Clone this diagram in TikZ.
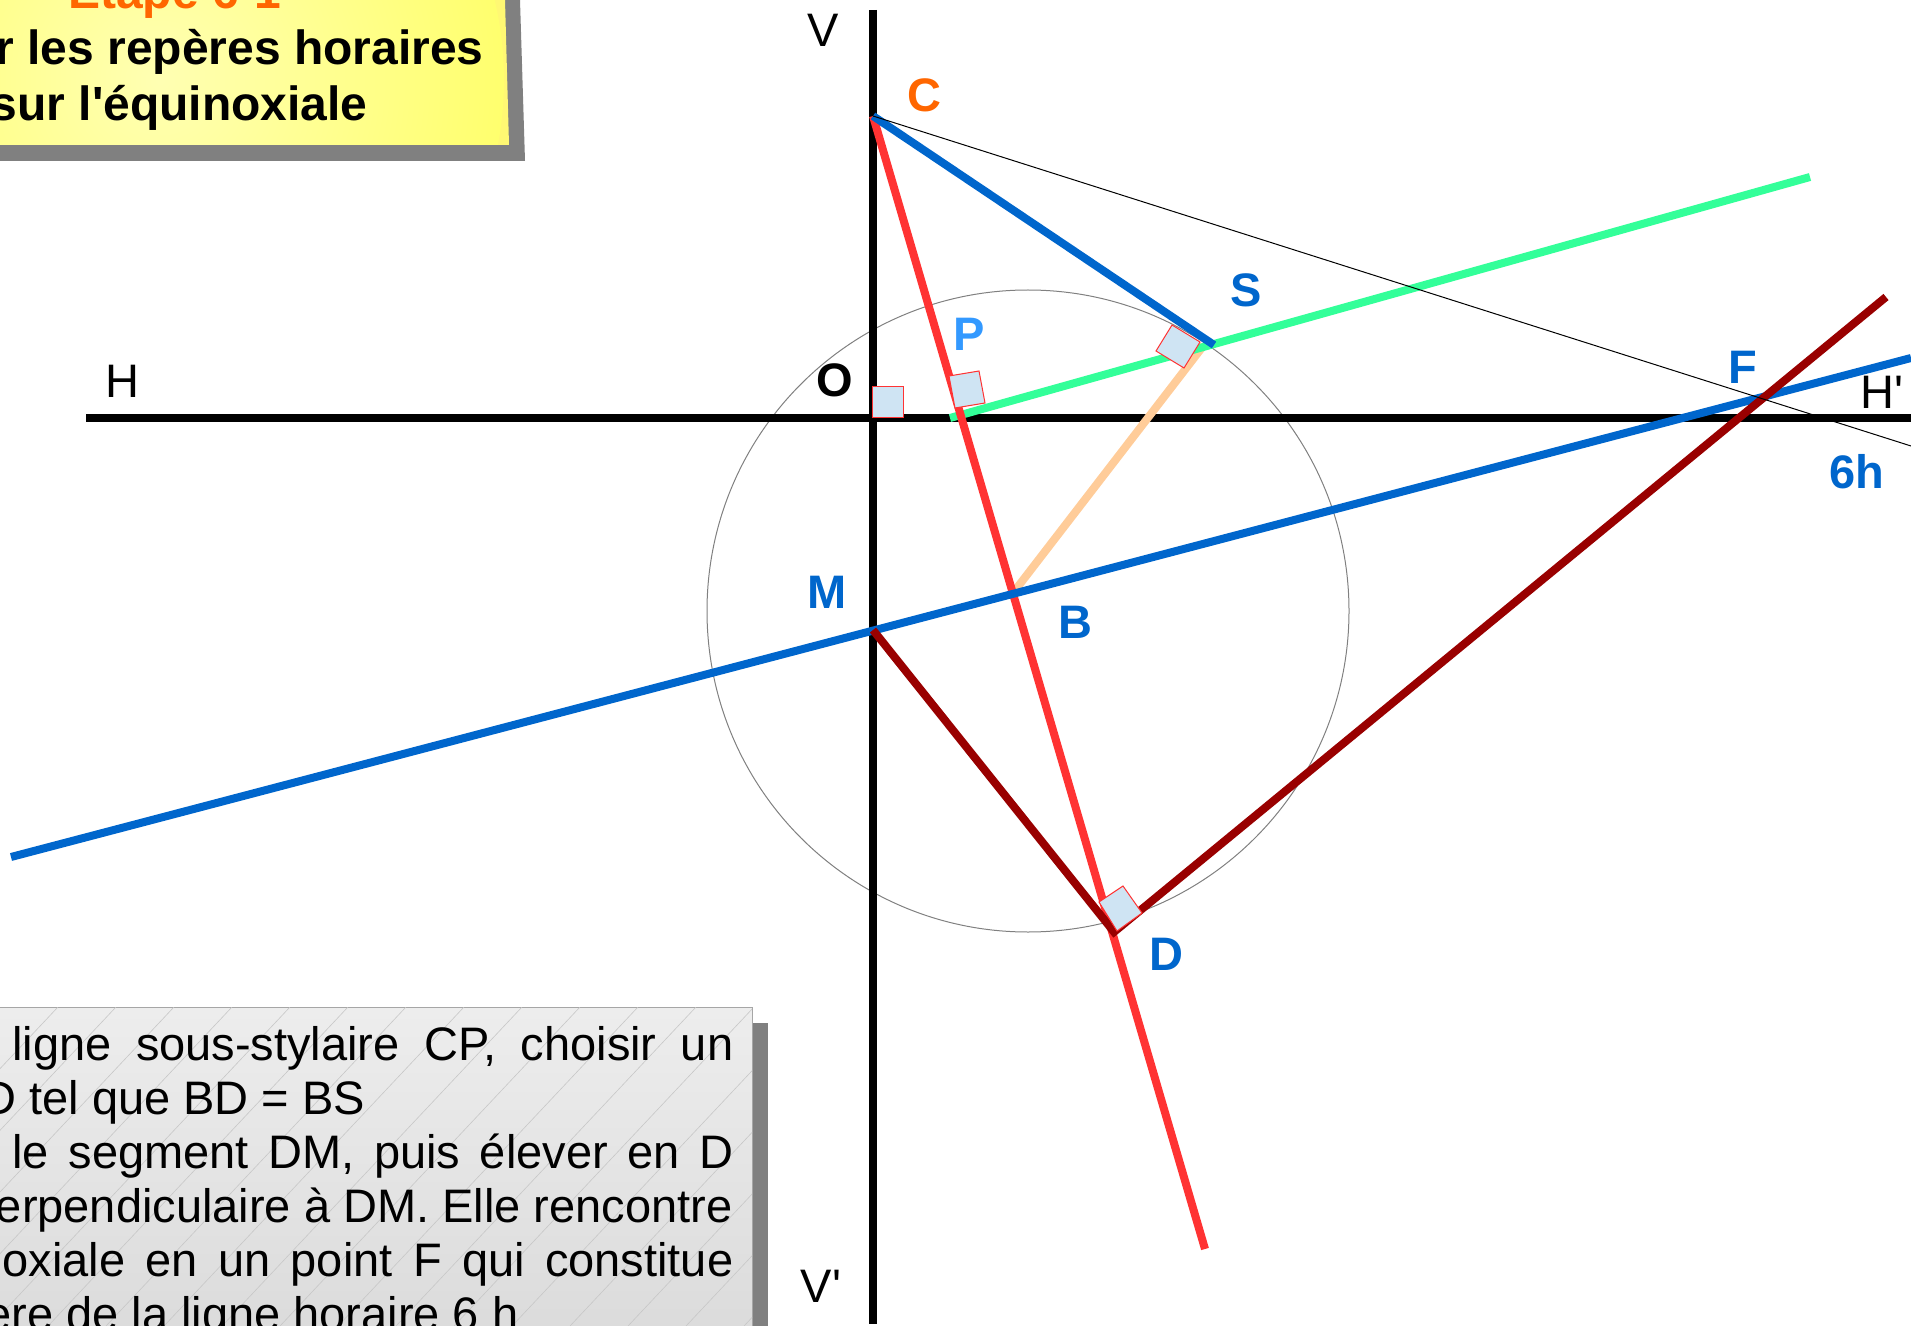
\documentclass[tikz,border=0pt]{standalone}
\usepackage{fontspec}
\setmainfont{Liberation Sans}[Ligatures=TeXOff]
\definecolor{labblue}{HTML}{0066CC}
\definecolor{ptblue}{HTML}{3399FF}
\definecolor{cor}{HTML}{FF6600}
\definecolor{redl}{HTML}{FF3333}
\definecolor{darkr}{HTML}{990000}
\definecolor{greenl}{HTML}{33FF99}
\definecolor{orangel}{HTML}{FFCC99}
\definecolor{sqfill}{HTML}{CFE4F3}
\definecolor{shadowg}{HTML}{808080}
\tikzset{
  thick line/.style={line width=4pt},
  axisline/.style={line width=3.7pt,black},
  hairline/.style={line width=0.5pt},
  rightsq/.style={fill=sqfill,draw=redl,line width=0.5pt},
  lab/.style={font=\fontsize{23.5}{27}\selectfont\bfseries,text=labblue,inner sep=0pt,anchor=center},
  axlab/.style={font=\fontsize{23.5}{27}\selectfont,text=black,inner sep=0pt,anchor=center},
  boxtext/.style={font=\fontsize{23.5}{27}\selectfont,inner sep=0pt,anchor=base west},
  boxtextr/.style={font=\fontsize{23.5}{27}\selectfont,inner sep=0pt,anchor=base east},
  titletext/.style={font=\fontsize{24}{28}\selectfont\bfseries,inner sep=0pt,anchor=base east},
}
\begin{document}
\begin{tikzpicture}[x=0.5pt,y=-0.5pt]
\useasboundingbox (0,0) rectangle (1911,1326);
% title panel
\fill[shadowg] (0,0) -- (520,0) -- (525,161) -- (0,161) -- cycle;
\begin{scope}
\clip (0,0) -- (505,0) -- (509,145) -- (0,145) -- cycle;
\fill[yellow!55!white] (0,0) rectangle (520,150);
\shade[inner color=yellow!30!white,outer color=yellow!57!white] (160,80) circle[radius=172pt];
\end{scope}
\node[titletext,text=cor] (t1) at (282,9) {Etape 6-1};
\node[titletext] (t2) at (484,65) {r les repères horaires};
\node[titletext] (t3) at (368,121) {sur l'équinoxiale};
% text panel
\fill[shadowg] (20,1023) rectangle (768,1326);
\shade[top color=black!7,middle color=black!12,bottom color=black!14,draw=black!35,line width=0.5pt] (-2,1007) rectangle (752,1330);
\begin{scope}
\clip (0,1007) rectangle (752,1326);
\foreach \d in {0,58,...,1300}
  \draw[black!22,line width=0.3pt] (\d-300,1326) -- (\d,1007);
\end{scope}
\node[boxtext] (l1) at (12,1060) {\hbox to 360.5pt{ligne\hfill sous-stylaire\hfill CP,\hfill choisir\hfill un}};
\node[boxtext] (l2) at (-18,1114) {D tel que BD = BS};
\node[boxtext] (l3) at (12,1168) {\hbox to 360.5pt{le\hfill segment\hfill DM,\hfill puis\hfill élever\hfill en\hfill D}};
\node[boxtextr] (l4) at (733,1222) {erpendiculaire à DM. Elle rencontre};
\node[boxtext] (l5) at (2,1276) {\hbox to 365.5pt{oxiale\hfill en\hfill un\hfill point\hfill F\hfill qui\hfill constitue}};
\node[boxtext] (l6) at (-15,1330) {ere de la ligne horaire 6 h};
% points
\coordinate (V) at (873,10);
\coordinate (Vp) at (873,1324);
\coordinate (H) at (86,418);
\coordinate (Hp) at (1911,418);
\coordinate (C) at (873,116);
\coordinate (S) at (1214,345);
\coordinate (Sb) at (1204,345);
\coordinate (P0) at (950,418);
\coordinate (G) at (1810,177);
\coordinate (B) at (1013,593);
\coordinate (R) at (1205,1249);
\coordinate (E0) at (11,857);
\coordinate (E1) at (1911,358);
\coordinate (M) at (873,630);
\coordinate (D) at (1114,932);
\coordinate (Dk) at (1886,297);
\coordinate (Tn) at (1911,446);
\coordinate (Ctr) at (1028,611);
% circle
\draw[hairline,shadowg] (Ctr) circle[radius=160.5pt];
% axes
\draw[axisline] (H) -- (Hp);
\draw[axisline] (V) -- (Vp);
% lines
\draw[thick line,orangel] (B) -- (Sb);
\draw[thick line,greenl] (P0) -- (G);
\draw[thick line,redl] (C) -- (R);
\draw[thick line,labblue] (C) -- (S);
\draw[thick line,labblue] (E0) -- (E1);
\draw[thick line,darkr,line join=miter] (M) -- (D) -- (Dk);
\draw[hairline,black] (C) -- (Tn);
% right angle marks
\draw[rightsq] (872,387) -- (903,387) -- (903,418) -- (872,418) -- cycle;
\draw[rightsq] (949,376) -- (979,371) -- (985,403) -- (955,408) -- cycle;
\draw[rightsq] (1172,325) -- (1200,342) -- (1184,368) -- (1156,351) -- cycle;
\draw[rightsq] (1123,886) -- (1142,913) -- (1117,931) -- (1099,902) -- cycle;
% labels
\node[lab,text=cor] (nC) at (924,95) {C};
\node[lab] (nS) at (1246,290) {S};
\node[lab,text=ptblue] (nP) at (969,334) {P};
\node[lab,text=black] (nO) at (835,380) {O};
\node[lab] (nM) at (827,592) {M};
\node[lab] (nB) at (1075,622) {B};
\node[lab] (nD) at (1166,954) {D};
\node[lab] (nF) at (1743,367) {F};
\node[lab] (n6) at (1857,472) {6h};
\node[axlab] (nH) at (122,381) {H};
\node[axlab] (nHp) at (1882,392) {H'};
\node[axlab] (nV) at (823,30) {V};
\node[axlab] (nVp) at (821,1286) {V'};
\end{tikzpicture}
\end{document}
